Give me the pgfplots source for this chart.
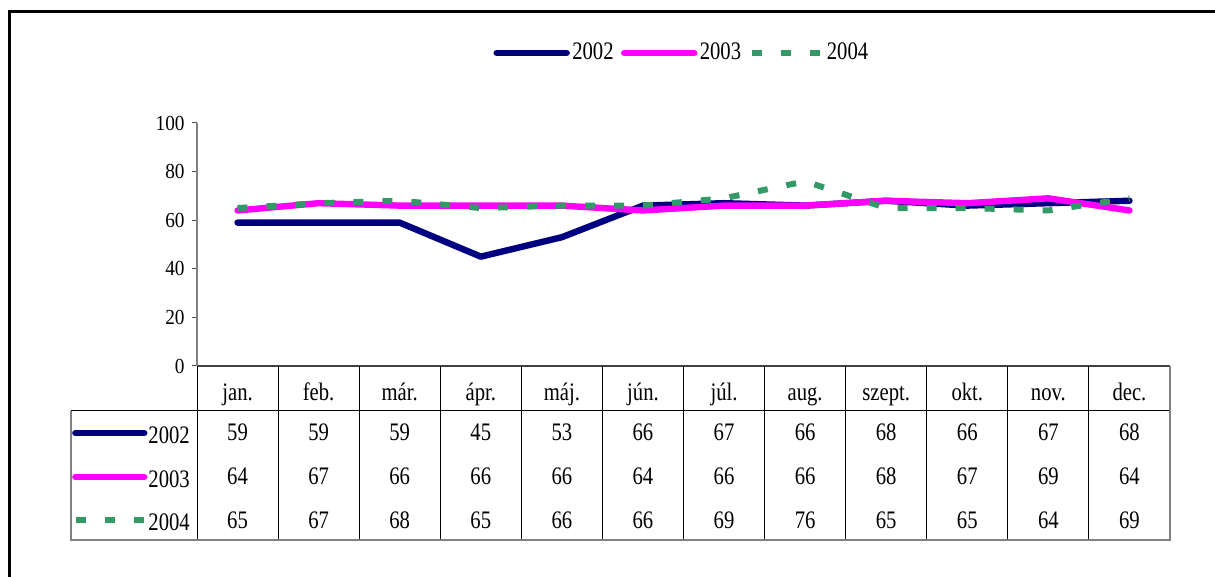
\documentclass[border=0pt]{standalone}
\usepackage{pgfplots}
\pgfplotsset{compat=1.18}
\usepackage{pgfplotstable}
\usepackage{fontspec}
\setmainfont{Liberation Serif}
\newfontfamily\condfont[FakeStretch=0.82]{Liberation Serif}
\newfontfamily\tickfam[FakeStretch=0.9]{Liberation Serif}
\newcommand\tabfont{\condfont\fontsize{12.6pt}{14pt}\selectfont}
\newcommand\tickfont{\tickfam\fontsize{10.7pt}{12pt}\selectfont}
\definecolor{cnavy}{RGB}{0,0,128}
\definecolor{cmag}{RGB}{255,0,255}
\definecolor{cgreen}{RGB}{51,153,102}
\definecolor{cgrid}{RGB}{128,128,128}

\pgfplotstableread{
x a b c
0.5 59 64 65
1.5 59 67 67
2.5 59 66 68
3.5 45 66 65
4.5 53 66 66
5.5 66 64 66
6.5 67 66 69
7.5 66 66 76
8.5 68 68 65
9.5 66 67 65
10.5 67 69 64
11.5 68 64 69
}\data

\begin{document}
\begin{tikzpicture}
\useasboundingbox (0,0) rectangle (607.5pt,288.5pt);
\fill[white] (0,0) rectangle (607.5pt,288.5pt);
\draw[line width=1.5pt] (4.75pt,-10pt) -- (4.75pt,282.75pt) -- (620pt,282.75pt);
\begin{axis}[
  at={(98.5pt,105.5pt)}, anchor=south west,
  width=486.5pt, height=121.5pt, scale only axis,
  xmin=0, xmax=12, ymin=0, ymax=100,
  clip=false,
  axis x line*=bottom, axis y line*=left,
  x axis line style={draw=black!75, line width=0.6pt},
  y axis line style={draw=cgrid, line width=0.6pt},
  xtick={0.5,1.5,...,11.5},
  xticklabels={jan.,feb.,már.,ápr.,máj.,jún.,júl.,aug.,szept.,okt.,nov.,dec.},
  xtick style={draw=none},
  xticklabel style={anchor=base, yshift=-14.5pt, font=\tabfont},
  ytick={0,20,...,100},
  ytick style={draw=black!70, line width=0.5pt},
  tick align=outside, major tick length=2.7pt,
  /pgf/number format/assume math mode=true,
  yticklabel style={font=\tickfont},
  legend columns=3,
  legend style={at={(0.4985,1.288)}, anchor=center, draw=none, fill=none,
    font=\tabfont, inner sep=0pt, nodes={inner sep=1.2pt},
    /tikz/every even column/.append style={column sep=2.5pt}},
  legend image code/.code={\draw[#1] (0pt,0pt) -- (35pt,0pt);},
]
\addplot[cnavy, line width=3.2pt, line cap=round, line join=round] table[x=x,y=a]{\data};
\addlegendentry{2002}
\addplot[cmag, line width=3.2pt, line cap=round, line join=round] table[x=x,y=b]{\data};
\addlegendentry{2003}
\addplot[cgreen, line width=3pt, dash pattern=on 5pt off 9.5pt] table[x=x,y=c]{\data};
\addlegendentry{2004}

% table values
\addplot[draw=none, mark=none, forget plot, nodes near coords, point meta=explicit,
  nodes near coords style={anchor=base, font=\tabfont, inner sep=0pt}]
  table[x=x, y expr=-30.86, meta=a]{\data};
\addplot[draw=none, mark=none, forget plot, nodes near coords, point meta=explicit,
  nodes near coords style={anchor=base, font=\tabfont, inner sep=0pt}]
  table[x=x, y expr=-48.97, meta=b]{\data};
\addplot[draw=none, mark=none, forget plot, nodes near coords, point meta=explicit,
  nodes near coords style={anchor=base, font=\tabfont, inner sep=0pt}]
  table[x=x, y expr=-66.67, meta=c]{\data};

% table grid
\draw[black, line width=0.5pt] (axis cs:-1.554,-18.52) -- (axis cs:12,-18.52);
\pgfplotsinvokeforeach{0,...,11}{
  \draw[black, line width=0.5pt] (axis cs:#1,0) -- (axis cs:#1,-71.6);
}
\draw[cgrid, line width=0.7pt] (axis cs:12,0) -- (axis cs:12,-71.6) -- (axis cs:-1.554,-71.6) -- (axis cs:-1.554,-18.52);

% row legend keys
\draw[cnavy, line width=3.2pt, line cap=round] (axis cs:-1.50,-27.6) -- (axis cs:-0.65,-27.6);
\draw[cmag, line width=3.2pt, line cap=round] (axis cs:-1.50,-45.7) -- (axis cs:-0.65,-45.7);
\draw[cgreen, line width=3pt, dash pattern=on 5pt off 9.5pt] (axis cs:-1.493,-63.4) -- (axis cs:-0.64,-63.4);
\node[anchor=base west, font=\tabfont, inner sep=0pt] at (axis cs:-0.604,-32.1) {2002};
\node[anchor=base west, font=\tabfont, inner sep=0pt] at (axis cs:-0.604,-50.2) {2003};
\node[anchor=base west, font=\tabfont, inner sep=0pt] at (axis cs:-0.604,-67.9) {2004};
\end{axis}
\end{tikzpicture}
\end{document}
